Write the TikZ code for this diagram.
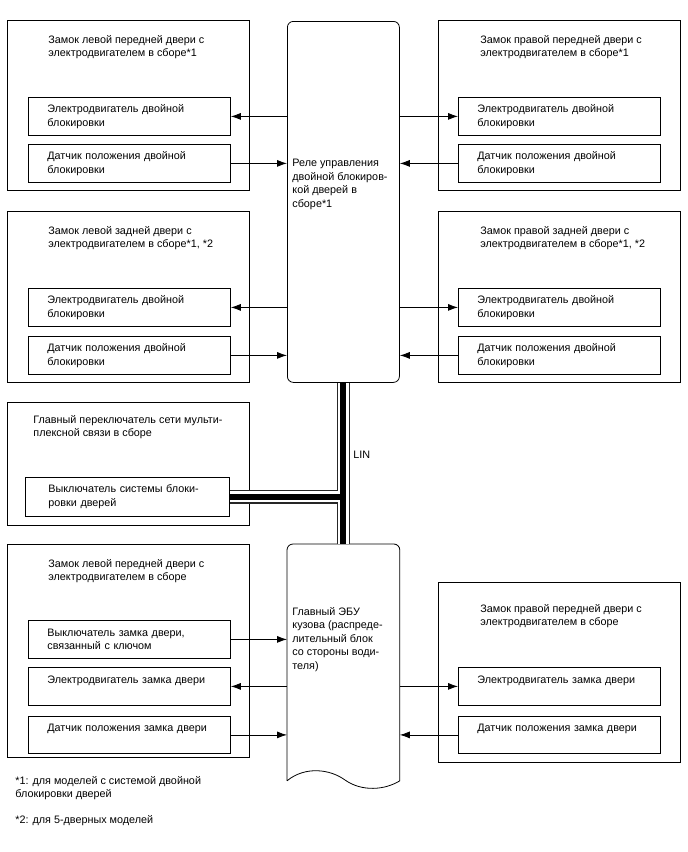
\documentclass[tikz,border=0pt]{standalone}
\usepackage{fontspec}
\setmainfont{Liberation Sans}
\usetikzlibrary{arrows.meta,calc}

\begin{document}
\begin{tikzpicture}[x=1pt,y=-1pt,>={Latex[length=10pt,width=7pt]},font=\fontsize{10.8pt}{13.5pt}\selectfont,line width=0.8pt]
\useasboundingbox (0,0) rectangle (688,852);
\tikzstyle{grp}=[draw,anchor=north west,inner sep=0,minimum width=242pt]
\tikzstyle{blk}=[draw,anchor=north west,align=left,text width=164pt,inner xsep=19pt,inner ysep=0,minimum height=38pt]
\tikzstyle{ttl}=[anchor=north west,align=left,inner sep=0]
% door lock groups
\node[grp,minimum height=170pt] (glf) at (7,20) {}; \node[grp,minimum height=170pt] (grf) at (438,20) {};
\node[grp,minimum height=171pt] (glr) at (7,211) {}; \node[grp,minimum height=171pt] (grr) at (438,211) {};
\node[grp,minimum height=123pt] (gsw) at (7,402) {};
\node[grp,minimum height=213pt] (glb) at (7,544) {}; \node[grp,minimum height=180pt] (grb) at (438,582) {};
\node[ttl] (tlf) at (48,35) {Замок левой передней двери с\\электродвигателем в сборе*1};
\node[ttl] (trf) at (480,35) {Замок правой передней двери с\\электродвигателем в сборе*1};
\node[ttl] (tlr) at (48,226) {Замок левой задней двери с\\электродвигателем в сборе*1, *2};
\node[ttl] (trr) at (480,226) {Замок правой задней двери с\\электродвигателем в сборе*1, *2};
\node[ttl] (tsw) at (33,415) {Главный переключатель сети мульти-\\плексной связи в сборе};
\node[ttl] (tlb) at (48,559) {Замок левой передней двери с\\электродвигателем в сборе};
\node[ttl] (trb) at (480,604) {Замок правой передней двери с\\электродвигателем в сборе};
% parts
\node[blk] (m1) at (28,97) {Электродвигатель двойной\\блокировки}; \node[blk] (s1) at (28,144) {Датчик положения двойной\\блокировки};
\node[blk] (m2) at (458,97) {Электродвигатель двойной\\блокировки}; \node[blk] (s2) at (458,144) {Датчик положения двойной\\блокировки};
\node[blk] (m3) at (28,288) {Электродвигатель двойной\\блокировки}; \node[blk] (s3) at (28,336) {Датчик положения двойной\\блокировки};
\node[blk] (m4) at (458,288) {Электродвигатель двойной\\блокировки}; \node[blk] (s4) at (458,336) {Датчик положения двойной\\блокировки};
\node[blk,inner xsep=23pt,text width=158pt,minimum height=39pt] (sw) at (25,477) {Выключатель системы блоки-\\ровки дверей};
\node[blk] (k5) at (28,620) {Выключатель замка двери,\\связанный с ключом};
\node[blk] (m5) at (28,667) {Электродвигатель замка двери\\~}; \node[blk,minimum height=37pt] (s5) at (28,716) {Датчик положения замка двери\\~};
\node[blk] (m6) at (458,667) {Электродвигатель замка двери\\~}; \node[blk,minimum height=37pt] (s6) at (458,716) {Датчик положения замка двери\\~};
% relay and body ECU
\node[draw,rounded corners=6pt,anchor=north west,minimum width=112pt,minimum height=361pt] (relay) at (287,21) {};
\node[ttl] (trelay) at (292,159) {Реле управления\\двойной блокиров-\\кой дверей в\\сборе*1};
\node[anchor=north west,inner sep=0,minimum width=112pt,minimum height=236pt] (ecu) at (287,544) {};
\draw (ecu.south west) [rounded corners=6pt] -- (ecu.north west) -- (ecu.north east) [sharp corners] -- (ecu.south east)
  .. controls (385,790) and (362,792) .. (345,780) .. controls (330,769) and (305,766) .. (ecu.south west);
\node[ttl] (tecu) at (292,607) {Главный ЭБУ\\кузова (распреде-\\лительный блок\\со стороны води-\\теля)};
% LIN bus
\coordinate (j) at (relay.south |- sw.east);
\foreach \w/\c in {13.5/black!85,11/white,6/black}
  \draw[line width=\w pt,\c] (relay.south) -- (ecu.north) (sw.east) -- (j);
\node[anchor=west,inner sep=0] (lin) at (353,455) {LIN};
% signal lines
\draw[<-] (m1.east) -- (m1.east -| relay.west); \draw[->] (s1.east) -- (s1.east -| relay.west);
\draw[<-] (m2.west) -- (m2.west -| relay.east); \draw[->] (s2.west) -- (s2.west -| relay.east);
\draw[<-] (m3.east) -- (m3.east -| relay.west); \draw[->] (s3.east) -- (s3.east -| relay.west);
\draw[<-] (m4.west) -- (m4.west -| relay.east); \draw[->] (s4.west) -- (s4.west -| relay.east);
\draw[->] (k5.east) -- (k5.east -| ecu.west); \draw[<-] (m5.east) -- (m5.east -| ecu.west); \draw[->] (s5.east) -- (s5.east -| ecu.west);
\draw[<-] (m6.west) -- (m6.west -| ecu.east); \draw[->] (s6.west) -- (s6.west -| ecu.east);
% notes
\node[ttl] (n1) at (15,776) {*1: для моделей с системой двойной\\блокировки дверей};
\node[ttl] (n2) at (15,815) {*2: для 5-дверных моделей};
\end{tikzpicture}
\end{document}
